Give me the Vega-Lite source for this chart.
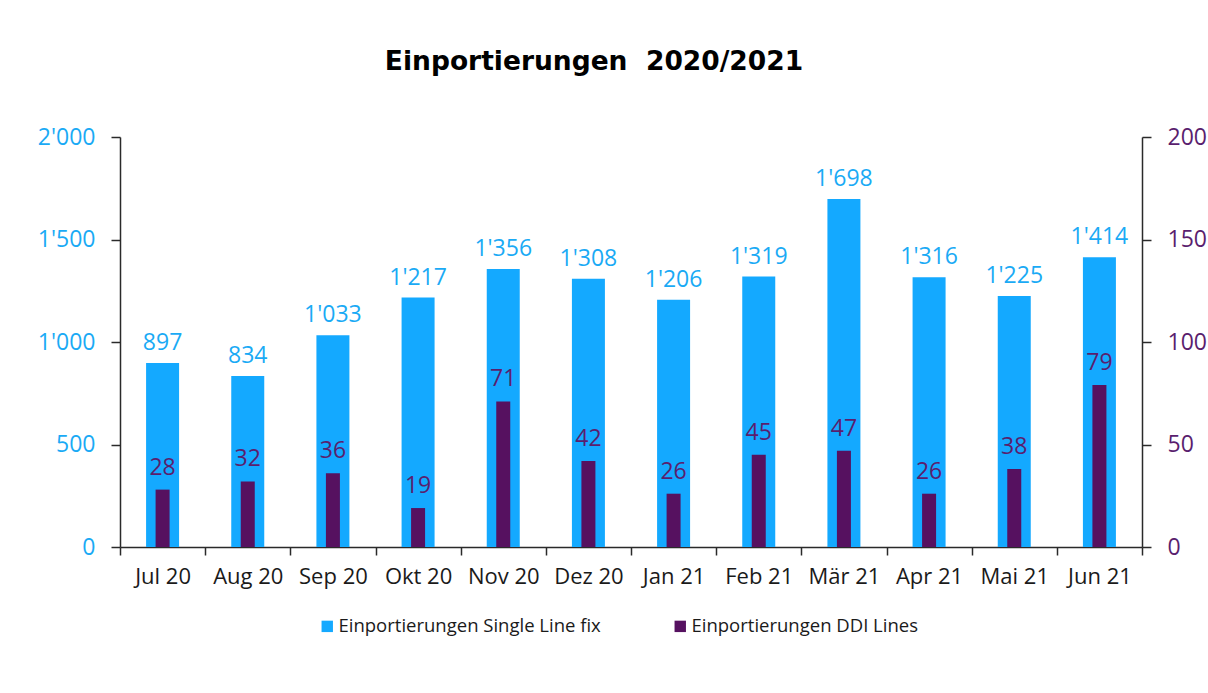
{
  "$schema": "https://vega.github.io/schema/vega-lite/v6.json",
  "width": 1022,
  "height": 410,
  "autosize": {"type": "none"},
  "padding": {"left": 120, "top": 137, "right": 66, "bottom": 146},
  "background": "white",
  "title": {
    "text": "Einportierungen\u00a0\u00a02020/2021",
    "font": "DejaVu Sans",
    "fontSize": 26.5,
    "fontWeight": "bold",
    "color": "#000000",
    "anchor": "middle",
    "frame": "group",
    "dx": -37,
    "baseline": "alphabetic",
    "offset": 30
  },
  "data": {
    "values": [
      {"Monat": "Jul 20", "single": 897, "ddi": 28},
      {"Monat": "Aug 20", "single": 834, "ddi": 32},
      {"Monat": "Sep 20", "single": 1033, "ddi": 36},
      {"Monat": "Okt 20", "single": 1217, "ddi": 19},
      {"Monat": "Nov 20", "single": 1356, "ddi": 71},
      {"Monat": "Dez 20", "single": 1308, "ddi": 42},
      {"Monat": "Jan 21", "single": 1206, "ddi": 26},
      {"Monat": "Feb 21", "single": 1319, "ddi": 45},
      {"Monat": "Mär 21", "single": 1698, "ddi": 47},
      {"Monat": "Apr 21", "single": 1316, "ddi": 26},
      {"Monat": "Mai 21", "single": 1225, "ddi": 38},
      {"Monat": "Jun 21", "single": 1414, "ddi": 79}
    ]
  },
  "encoding": {
    "x": {
      "field": "Monat",
      "type": "nominal",
      "sort": null,
      "title": null,
      "scale": {"paddingInner": 0, "paddingOuter": 0},
      "axis": {
        "labelAngle": 0,
        "labelFont": "Open Sans",
        "labelFontSize": 22,
        "labelColor": "#1a1a1a",
        "labelPadding": 11,
        "tickBand": "extent",
        "tickSize": 8,
        "tickColor": "#2a2a2a",
        "tickWidth": 1.5,
        "domainColor": "#2a2a2a",
        "domainWidth": 1.5
      }
    }
  },
  "layer": [
    {
      "encoding": {
        "y": {
          "field": "single",
          "type": "quantitative",
          "title": null,
          "scale": {"domain": [0, 2000], "nice": false},
          "axis": {
            "orient": "left",
            "values": [0, 500, 1000, 1500, 2000],
            "format": ",d",
            "grid": false,
            "labelFont": "Open Sans",
            "labelFontSize": 23,
            "labelColor": "#1AAAF5",
            "labelPadding": 16,
            "tickSize": 9,
            "tickColor": "#2a2a2a",
            "tickWidth": 1.5,
            "domainColor": "#2a2a2a",
            "domainWidth": 1.5
          }
        }
      },
      "layer": [
        {
          "mark": {"type": "bar", "size": 33},
          "encoding": {
            "color": {
              "datum": "Einportierungen Single Line fix",
              "scale": {
                "domain": ["Einportierungen Single Line fix", "Einportierungen DDI Lines"],
                "range": ["#14A9FF", "#561160"]
              },
              "legend": {
                "title": null,
                "orient": "none",
                "legendX": 198,
                "legendY": 480,
                "direction": "horizontal",
                "symbolType": "square",
                "symbolSize": 130,
                "symbolStrokeWidth": 0,
                "labelFont": "Open Sans",
                "labelFontSize": 18.5,
                "labelLimit": 0,
                "labelColor": "#1a1a1a",
                "labelOffset": 2,
                "columnPadding": 70
              }
            }
          }
        },
        {
          "mark": {
            "type": "text",
            "font": "Open Sans",
            "fontSize": 23,
            "color": "#1AAAF5",
            "baseline": "alphabetic",
            "dy": -13
          },
          "encoding": {
            "text": {"field": "single", "type": "quantitative", "format": ",d"}
          }
        }
      ]
    },
    {
      "encoding": {
        "y": {
          "field": "ddi",
          "type": "quantitative",
          "title": null,
          "scale": {"domain": [0, 200], "nice": false},
          "axis": {
            "orient": "right",
            "values": [0, 50, 100, 150, 200],
            "grid": false,
            "labelFont": "Open Sans",
            "labelFontSize": 23,
            "labelColor": "#5A1E6E",
            "labelPadding": 16,
            "tickSize": 9,
            "tickColor": "#2a2a2a",
            "tickWidth": 1.5,
            "domainColor": "#2a2a2a",
            "domainWidth": 1.5
          }
        }
      },
      "layer": [
        {
          "mark": {"type": "bar", "size": 14},
          "encoding": {
            "color": {"datum": "Einportierungen DDI Lines"}
          }
        },
        {
          "mark": {
            "type": "text",
            "font": "Open Sans",
            "fontSize": 23,
            "color": "#5A1E6E",
            "baseline": "alphabetic",
            "dy": -15
          },
          "encoding": {
            "text": {"field": "ddi", "type": "quantitative", "format": ",d"}
          }
        }
      ]
    }
  ],
  "resolve": {"scale": {"y": "independent"}},
  "config": {
    "locale": {
      "number": {"decimal": ".", "thousands": "'", "grouping": [3], "currency": ["", ""]}
    },
    "view": {"stroke": null}
  }
}
